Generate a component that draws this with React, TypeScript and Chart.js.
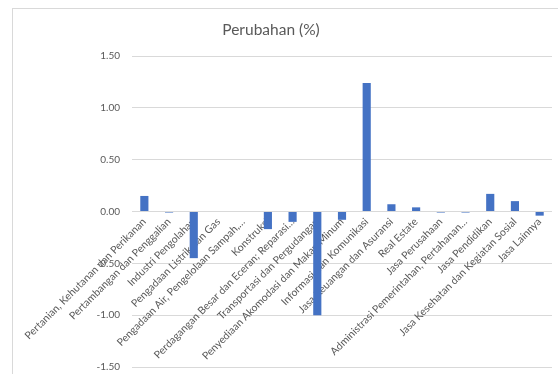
import React, { useEffect, useRef } from "react";
import { Chart, registerables } from "chart.js";

Chart.register(...registerables);

const categories: string[] = [
  "Pertanian, Kehutanan dan Perikanan",
  "Pertambangan dan Penggalian",
  "Industri Pengolahan",
  "Pengadaan Listrik dan Gas",
  "Pengadaan Air, Pengelolaan Sampah,…",
  "Konstruksi",
  "Perdagangan Besar dan Eceran; Reparasi…",
  "Transportasi dan Pergudangan",
  "Penyediaan Akomodasi dan Makan Minum",
  "Informasi dan Komunikasi",
  "Jasa Keuangan dan Asuransi",
  "Real Estate",
  "Jasa Perusahaan",
  "Administrasi Pemerintahan, Pertahanan…",
  "Jasa Pendidikan",
  "Jasa Kesehatan dan Kegiatan Sosial",
  "Jasa Lainnya",
];

const perubahan: number[] = [
  0.15, -0.01, -0.45, 0.0, 0.0, -0.17, -0.1, -1.0, -0.08, 1.24, 0.07, 0.04,
  -0.01, -0.01, 0.17, 0.1, -0.04,
];

const titleText = "Perubahan (%)";
const yMin = -1.5;
const yMax = 1.5;
const yStep = 0.5;

const FONT = "Lato, 'Liberation Sans', sans-serif";
const TEXT = "#595959";
const GRID = "#d9d9d9";

const titlePlugin = {
  id: "customTitle",
  afterDraw(chart: any) {
    const ctx = chart.ctx;
    ctx.save();
    ctx.font = `15.5px ${FONT}`;
    ctx.fillStyle = TEXT;
    ctx.textAlign = "center";
    ctx.textBaseline = "middle";
    ctx.fillText(titleText, 271, 30);
    ctx.restore();
  },
};

export default function App() {
  const ref = useRef<HTMLCanvasElement | null>(null);

  useEffect(() => {
    if (!ref.current) return;
    const chart = new Chart(ref.current, {
      type: "bar",
      data: {
        labels: categories,
        datasets: [
          {
            label: titleText,
            data: perubahan,
            backgroundColor: "#4472C4",
            borderWidth: 0,
            categoryPercentage: 1,
            barPercentage: 0.33,
          },
        ],
      },
      options: {
        responsive: false,
        animation: false,
        layout: { padding: { top: 56, bottom: 6, left: 0, right: 6 } },
        plugins: {
          legend: { display: false },
          title: { display: false },
          tooltip: { enabled: false },
        },
        scales: {
          x: {
            position: { y: 0 } as any,
            grid: { display: false, drawTicks: false },
            border: { display: false },
            ticks: {
              autoSkip: false,
              maxRotation: 45,
              minRotation: 45,
              padding: 4,
              color: TEXT,
              font: { family: FONT, size: 10.5 },
            },
          },
          y: {
            min: yMin,
            max: yMax,
            grid: { color: GRID, drawTicks: false, lineWidth: 1 },
            border: { display: false },
            afterFit(scale: any) {
              scale.width = 132;
            },
            ticks: {
              stepSize: yStep,
              padding: 12,
              color: TEXT,
              font: { family: FONT, size: 10 },
              callback: (v: any) => Number(v).toFixed(2),
            },
          },
        },
      },
      plugins: [titlePlugin],
    });
    return () => chart.destroy();
  }, []);

  return (
    <div
      style={{
        position: "fixed",
        left: 0,
        top: 0,
        width: 558,
        height: 374,
        background: "#fff",
        overflow: "hidden",
      }}
    >
      <div
        style={{
          position: "absolute",
          left: 12,
          top: 8,
          width: 600,
          height: 400,
          border: `1px solid ${GRID}`,
        }}
      />
      <canvas
        ref={ref}
        width={558}
        height={385}
        style={{ position: "absolute", left: 0, top: 0 }}
      />
    </div>
  );
}
